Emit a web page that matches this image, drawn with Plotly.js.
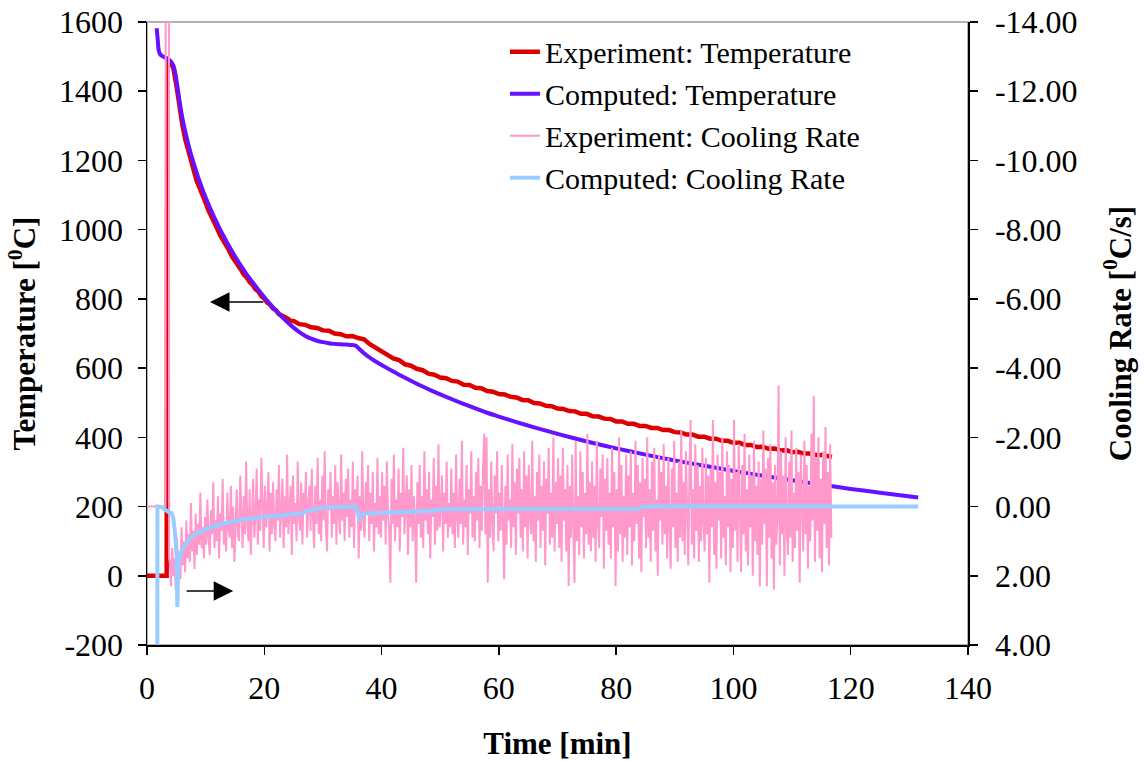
<!DOCTYPE html>
<html>
<head>
<meta charset="utf-8">
<script src="https://cdn.plot.ly/plotly-3.0.1.min.js"></script>
<style>html,body{margin:0;padding:0;background:#fff;}#chart{width:1144px;height:761px;}</style>
</head>
<body>
<div id="chart"></div>
<script>
// ---- Experiment: Temperature (min, degC) ----
const tempExpTime = [0, 3.35, 3.45, 3.7, 4.0, 4.5, 5.0, 5.5, 6.0, 6.5, 7.0, 7.5, 8.0, 8.5, 9.0, 9.5, 10, 10.5, 11, 11.5, 12, 12.5, 13, 13.5, 14, 14.5, 15, 15.5, 16, 16.5, 17, 17.5, 18, 18.5, 19, 19.5, 20, 20.5, 21, 21.5, 22, 22.5, 23, 23.5, 24, 24.5, 25, 26, 27, 28, 29, 30, 31, 32, 33, 34, 35, 36, 37, 38, 39, 40, 41, 42, 43, 44, 45, 46, 47, 48, 49, 50, 51, 52, 53, 54, 55, 56, 57, 58, 59, 60, 61, 62, 63, 64, 65, 66, 67, 68, 69, 70, 71, 72, 73, 74, 75, 76, 77, 78, 79, 80, 81, 82, 83, 84, 85, 86, 87, 88, 89, 90, 91, 92, 93, 94, 95, 96, 97, 98, 99, 100, 101, 102, 103, 104, 105, 106, 107, 108, 109, 110, 111, 112, 113, 114, 115, 116, 116.8];
const tempExpValue = [0, 0, 1470, 1488, 1484, 1466, 1418, 1352, 1306, 1262, 1230, 1194, 1170, 1139, 1120, 1094, 1077, 1055, 1039, 1017, 1002, 983, 970, 952, 940, 922, 911, 895, 885, 870, 862, 849, 841, 828, 821, 808, 801, 789, 783, 772, 767, 756, 752, 745, 743, 736, 736, 727, 725, 718, 716, 709, 708, 700, 698, 692, 693, 687, 683, 669, 659, 647, 640, 628, 623, 611, 607, 598, 594, 584, 581, 573, 571, 563, 561, 552, 551, 543, 542, 534, 532, 525, 524, 517, 515, 508, 507, 499, 498, 491, 490, 483, 482, 476, 475, 468, 468, 461, 460, 454, 453, 446, 446, 439, 439, 433, 433, 427, 427, 421, 421, 415, 414, 408, 408, 402, 402, 396, 396, 390, 390, 384, 384, 378, 378, 372, 373, 367, 368, 362, 363, 357, 358, 353, 353, 349, 349, 345, 344];

// ---- Computed: Temperature ----
const tempCompTime = [1.65, 1.8, 2.0, 2.3, 3.0, 3.5, 4.0, 4.5, 4.9, 5.3, 5.7, 6.0, 6.5, 7, 7.5, 8, 8.5, 9, 9.5, 10, 11, 12, 13, 14, 15, 16, 17, 18, 19, 20, 21, 22, 23, 24, 25, 26, 27, 28, 29, 30, 31, 32, 33, 34, 35, 35.6, 36.2, 37, 38, 39, 40, 42, 44, 46, 48, 50, 52, 55, 58, 60, 63, 66, 70, 75, 80, 85, 90, 95, 100, 105, 110, 115, 120, 125, 131.5];
const tempCompValue = [1582, 1555, 1518, 1505, 1498, 1494, 1487, 1474, 1445, 1400, 1355, 1325, 1285, 1250, 1218, 1190, 1163, 1138, 1115, 1093, 1053, 1017, 983, 952, 923, 896, 871, 848, 826, 805, 785, 766, 748, 732, 717, 704, 693, 685, 679, 675, 672, 670, 669, 668, 667, 665, 655, 643, 630, 619, 609, 590, 572, 555, 539, 524, 510, 490, 471, 460, 444, 429, 410, 388, 368, 350, 333, 318, 303, 289, 276, 263, 251, 240, 226];

// ---- Experiment: Cooling Rate (degC/s) ----
const crExpLeadTime = [0, 3.15, 3.2, 3.72, 3.78];
const crExpLeadValue = [0, 0, -20, -20, 1.5];
const crExpNoiseStart = 3.9;   // min
const crExpNoiseStep = 0.2;    // min between samples
const crExpNoise = [
 1.6, 2.3, 1.2, 2.0, 1.5, 2.4, 0.9, 1.8, 1.3, 2.1, 0.6, 1.7, 1.0, 1.9, 0.4, 1.5, 0.8, 1.6, -0.1, 1.3, 0.7, 1.8, 0.2, 1.4, 0.5, 1.1, -0.4, 1.2, 0.6, 1.5,
 0.3, 1.1, -0.2, 0.9, 1.4, 0.1, 0.8, -0.7, 1.2, 0.4, 1.0, -0.3, 1.5, 0.2, 0.7, -0.8, 1.1, 0.5, 1.3, -0.4, 0.6, 0.9, -0.6, 1.2, 0.0, 1.6, 0.3, -0.5, 0.8, 1.0,
 -0.9, 0.6, 1.2, -0.3, 0.8, -1.3, 0.5, 1.0, -0.5, 1.4, 0.2, -0.8, 0.9, 0.3, -1.1, 1.1, -0.2, 0.7, -1.4, 0.4, 1.2, -0.6, 0.6, 0.1, -1.0, 1.3, -0.4, 0.8, -0.7, 0.5,
 1.0, -0.5, 0.4, -1.2, 0.9, 0.1, -0.8, 1.2, -0.3, 0.6, -1.5, 0.8, 0.2, -0.6, 1.4, -0.9, 0.5, -0.1, 1.0, -1.3, 0.3, 0.7, -0.7, 1.1, -0.4, 0.2, -1.0, 0.9, 0.0, -0.6,
 0.7, -1.1, 0.3, 1.2, -0.6, 0.5, -1.4, 0.8, -0.2, 1.0, -0.9, 0.4, -1.6, 0.6, 1.3, -0.5, 0.1, -1.0, 0.9, -0.3, 0.5, -1.2, 1.1, -0.7, 0.2, 0.8, -1.5, 0.4, -0.4, 1.0,
 -0.8, 0.3, -1.1, 0.9, -0.2, 0.6, -1.3, 1.2, -0.5, 0.1, -0.9, 1.5, -0.3, 0.7, -1.6, 0.4, 0.9, -0.7, 0.2, -1.2, 1.0, -0.4, 0.5, -1.0, 1.3, -0.1, 0.6, -1.4, 0.8, -0.3,
 0.9, -1.0, 0.4, -0.6, 1.1, -1.3, 0.2, 0.7, 2.2, -0.8, 0.5, -1.5, 1.0, -0.2, 0.6, -1.1, 1.3, -0.4, 0.3, -1.7, 0.8, 0.1, -0.9, 1.4, -0.5, 0.6, -1.2, 1.0, -0.3, 0.4,
 2.2, -0.7, 0.5, -1.2, 0.9, -0.3, 1.2, -1.6, 0.4, -0.5, 0.8, -1.0, 1.5, -0.2, 0.3, -1.4, 1.1, -0.6, 0.7, -1.8, 0.6, 0.0, -0.9, 1.3, -0.4, 0.5, -1.3, 0.9, -0.1, 0.6,
 -1.1, 0.8, -0.4, 1.2, -1.5, 0.3, 0.9, -0.8, 0.5, -1.9, 1.1, -0.2, 0.6, -1.2, 1.4, -0.5, 0.2, -1.6, 0.9, -0.3, 1.0, -1.0, 0.4, -1.4, 1.2, -0.6, 0.7, -1.1, -2.1, 0.8,
 -2.0, 2.2, -0.5, 0.9, -1.3, 0.5, 1.3, -0.9, 0.2, -1.6, 1.0, -0.4, 0.7, -1.2, 0.3, 2.1, -0.6, 1.1, -1.5, 0.4, -0.2, 1.2, -1.8, 0.6, -0.7, 1.4, -1.1, 0.2, -1.4, 0.9,
 -0.5, 1.3, -1.6, 0.6, -0.9, 1.5, -1.2, 0.3, 0.8, -1.9, 1.0, -0.3, 1.6, -1.0, 0.4, -1.5, 1.2, -0.6, 0.7, -1.3, 1.7, -0.8, 0.2, -1.7, 1.1, -0.4, 0.9, -2.0, 1.3, -0.7,
 0.5, -1.4, 1.2, -0.9, 1.6, -1.7, 0.4, -0.5, 1.3, -1.2, 2.3, -0.6, 0.9, -1.5, 0.7, 2.2, -1.9, 1.0, -0.3, 1.4, -1.6, 0.6, -1.0, 1.5, -0.4, 0.8, -2.1, 1.1, -0.7, 1.3,
 -1.3, 0.9, -0.6, 1.6, -1.9, 0.5, 1.2, -1.1, 0.3, -1.5, 1.8, -0.8, 0.7, -1.4, 1.1, -0.4, 1.5, -1.7, 0.6, -1.0, 2.3, -0.5, 1.3, -2.0, 0.8, -1.2, 1.6, -0.3, 0.9, -1.5,
 1.4, -0.9, 0.6, -1.6, 1.7, -0.4, 1.0, -1.9, 0.5, -1.2, 1.5, -0.7, 1.9, -1.4, 0.3, -0.8, 1.2, -2.0, 0.9, -0.5, 1.6, -1.3, 0.7, -1.7, 1.3, -0.2, 2.0, -1.5, 0.4, -1.0,
 1.1, -1.8, 0.8, -0.6, 1.5, -1.4, 0.5, 1.8, -1.1, 0.6, -1.9, 1.2, -0.4, 1.6, -1.3, 0.9, -2.2, 1.0, -0.7, 1.4, -1.6, 0.3, 1.7, -1.0, -2.5, 1.1, -0.5, 1.5, -1.8, 0.7,
 -1.2, 1.6, -0.6, 1.0, -1.7, 0.5, 1.3, -1.4, 0.8, -0.9, 2.2, -1.1, 0.6, -2.5, 1.4, -0.7, 1.8, -1.5, 0.4, -1.0, 1.5, -2.0, 0.9, -0.3, 1.7, -1.6, 0.6, -1.2, 1.9, -0.8,
 1.2, -2.5, 0.7, -1.0, 1.6, -1.8, 0.4, 1.9, -1.2, 0.8, -2.1, 1.3, -0.5, 1.7, -1.5, 0.6, -0.9, 2.0, -1.9, 1.0, -0.6, 1.4, -1.3, 2.3, -0.8, 1.1, -2.2, 0.5, -1.1, 2.3,
 -1.4, 0.9, -1.8, 1.5, -0.7, 2.4, -1.2, 1.1, 0.3, -3.5, 1.7, -1.6, 0.8, -0.9, 2.0, -2.0, 0.6, 1.4, -1.3, 0.9, -2.2, 1.6, -0.4, 1.2, -1.7, 0.7, -1.0, 2.2, -1.5, 0.5,
 1.3, -1.9, 0.8, -1.2, 1.8, -0.6, 1.0, -2.1, 0.4, -3.2, 1.6, -1.4, 0.7, -2.0, 1.5, -0.8, 1.9, -1.6, 0.5, -2.3, 1.2, -1.0, 1.7, -1.8, 0.9
];

// ---- Computed: Cooling Rate ----
const crCompTime = [1.76, 1.78, 2.5, 3.07, 3.6, 4.21, 4.5, 4.77, 5.06, 5.17, 5.34, 5.6, 5.92, 6.5, 7.62, 9, 11.03, 13.3, 16, 20, 23, 26.1, 28, 30.6, 35.5, 36.0, 36.2, 36.5, 37.2, 40, 45, 48.8, 50, 70, 84, 84.5, 131.5];
const crCompValue = [4.0, 0.0, 0.02, 0.1, 0.15, 0.19, 0.35, 0.76, 1.46, 2.9, 1.75, 1.45, 1.26, 1.1, 0.88, 0.73, 0.59, 0.48, 0.39, 0.3, 0.25, 0.2, 0.1, 0.02, 0.0, 0.2, 0.39, 0.25, 0.2, 0.18, 0.15, 0.12, 0.08, 0.06, 0.06, 0.0, 0.0];

// ---- Axis ticks ----
const xTicks = [0, 20, 40, 60, 80, 100, 120, 140];
const yTicks = [-200, 0, 200, 400, 600, 800, 1000, 1200, 1400, 1600];
const yTickText = ["-200", "0", "200", "400", "600", "800", "1000", "1200", "1400", "1600"];
const y2Ticks = [-14, -12, -10, -8, -6, -4, -2, 0, 2, 4];
const y2TickText = ["-14.00", "-12.00", "-10.00", "-8.00", "-6.00", "-4.00", "-2.00", "0.00", "2.00", "4.00"];

// build experiment cooling-rate series
const crExpTime = crExpLeadTime.slice();
const crExpValue = crExpLeadValue.slice();
crExpNoise.forEach((v, i) => {
  crExpTime.push(+(crExpNoiseStart + i * crExpNoiseStep).toFixed(2));
  crExpValue.push(v);
});

const FONT = "Liberation Serif, 'Times New Roman', Times, serif";

const traces = [
  {x: tempExpTime, y: tempExpValue, type: 'scatter', mode: 'lines', name: 'Experiment: Temperature',
   line: {color: '#DD0000', width: 4.5}, yaxis: 'y'},
  {x: tempCompTime, y: tempCompValue, type: 'scatter', mode: 'lines', name: 'Computed: Temperature',
   line: {color: '#6611FF', width: 4, shape: 'spline', smoothing: 0.6}, yaxis: 'y'},
  {x: crExpTime, y: crExpValue, type: 'scatter', mode: 'lines', name: 'Experiment: Cooling Rate',
   line: {color: '#FF99CC', width: 2}, yaxis: 'y2'},
  {x: crCompTime, y: crCompValue, type: 'scatter', mode: 'lines', name: 'Computed: Cooling Rate',
   line: {color: '#99CCFF', width: 4}, yaxis: 'y2'}
];

const axisCommon = {
  ticks: 'outside', ticklen: 8, tickwidth: 1.5, tickcolor: '#000',
  showline: true, linecolor: '#000', linewidth: 1.5,
  showgrid: false, zeroline: false,
  tickfont: {family: FONT, size: 32, color: '#000'}
};
const titleFont = {family: FONT, size: 31, color: '#000'};

const layout = {
  width: 1144, height: 761,
  margin: {l: 147, r: 176, t: 22, b: 116, pad: 0},
  paper_bgcolor: '#fff', plot_bgcolor: '#fff',
  font: {family: FONT, color: '#000', size: 30},
  showlegend: true,
  legend: {x: 0.436, y: 0.994, xanchor: 'left', yanchor: 'top', bgcolor: 'rgba(0,0,0,0)',
           font: {family: FONT, size: 30, color: '#000'}, traceorder: 'normal'},
  xaxis: Object.assign({}, axisCommon, {
    range: [0, 140], tickmode: 'array', tickvals: xTicks, ticklabelstandoff: 6,
    title: {text: '<b>Time [min]</b>', font: titleFont, standoff: 30}
  }),
  yaxis: Object.assign({}, axisCommon, {
    range: [-200, 1600], tickmode: 'array', tickvals: yTicks, ticktext: yTickText, ticklabelstandoff: 8,
    title: {text: '<b>Temperature [<sup>0</sup>C]</b>', font: titleFont, standoff: 14}
  }),
  yaxis2: Object.assign({}, axisCommon, {
    overlaying: 'y', side: 'right', range: [4, -14], tickmode: 'array',
    tickvals: y2Ticks, ticktext: y2TickText, ticklabelstandoff: 11,
    title: {text: '<b>Cooling Rate [<sup>0</sup>C/s]</b>', font: titleFont, standoff: 32}
  }),
  shapes: [
    {type: 'rect', xref: 'paper', yref: 'paper', x0: 0, x1: 1, y0: 0, y1: 1,
     line: {color: '#999999', width: 1.5}, layer: 'below'}
  ],
  annotations: [
    {x: 10.74, y: 791, ax: 20.1, ay: 791, xref: 'x', yref: 'y', axref: 'x', ayref: 'y',
     text: '', showarrow: true, arrowhead: 2, arrowsize: 2.6, arrowwidth: 1.5, arrowcolor: '#000'},
    {x: 14.7, y: -44, ax: 6.5, ay: -44, xref: 'x', yref: 'y', axref: 'x', ayref: 'y',
     text: '', showarrow: true, arrowhead: 2, arrowsize: 2.6, arrowwidth: 1.5, arrowcolor: '#000'}
  ]
};

Plotly.newPlot('chart', traces, layout, {displayModeBar: false, staticPlot: true});
</script>
</body>
</html>
